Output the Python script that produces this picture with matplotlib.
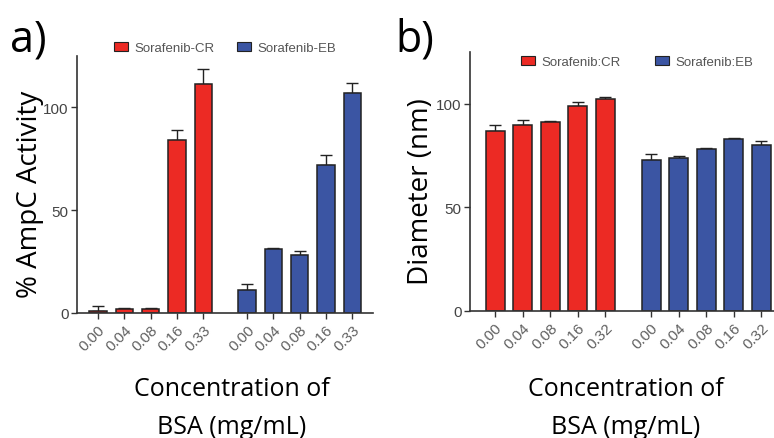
import numpy as np
import matplotlib
matplotlib.use("Agg")
from matplotlib import pyplot as plt
from matplotlib.patches import Patch

# data
conc_a = ["0.00", "0.04", "0.08", "0.16", "0.33"]
conc_b = ["0.00", "0.04", "0.08", "0.16", "0.32"]

activity_cr = [1.0, 2.0, 2.0, 84.0, 111.5]
activity_cr_err = [2.5, 0.5, 0.5, 5.0, 7.0]
activity_eb = [11.0, 31.0, 28.0, 72.0, 107.0]
activity_eb_err = [3.0, 0.5, 2.0, 5.0, 5.0]

diam_cr = [87.0, 90.0, 91.0, 99.0, 102.5]
diam_cr_err = [3.0, 2.0, 0.5, 2.0, 0.7]
diam_eb = [73.0, 74.0, 78.0, 83.0, 80.0]
diam_eb_err = [3.0, 0.6, 0.6, 0.6, 2.0]

RED = "#ec2a24"
BLUE = "#3b55a3"
AXC = "#333333"
TICKC = "#606060"
LABEL_FONT = "Open Sans"
SMALL_FONT = "Liberation Sans"


def draw_panel(ax, labels, cr, cr_err, eb, eb_err, names, xlim, width, legend_pos, colspace):
    x_cr = np.arange(len(cr))
    x_eb = np.arange(len(eb)) + 5.67
    ax.bar(x_cr, cr, width=width, color=RED, edgecolor="#222222", linewidth=1.1, zorder=2)
    ax.bar(x_eb, eb, width=width, color=BLUE, edgecolor="#222222", linewidth=1.1, zorder=2)
    for xs, ys, es in ((x_cr, cr, cr_err), (x_eb, eb, eb_err)):
        ax.errorbar(xs, ys, yerr=[np.zeros(len(es)), es], fmt="none", ecolor="#222222",
                    elinewidth=1.0, capsize=4, capthick=1.0, zorder=1)

    ax.set_xlim(*xlim)
    ax.set_ylim(0, 125)
    ax.set_yticks([0, 50, 100])
    ax.set_xticks(np.concatenate([x_cr, x_eb]))
    ax.set_xticklabels(labels + labels, rotation=45, ha="right", rotation_mode="anchor",
                       fontsize=11, color=TICKC, family=SMALL_FONT)
    for t in ax.get_yticklabels():
        t.set_family(SMALL_FONT)
        t.set_fontsize(11)
        t.set_color("#444444")
    ax.tick_params(axis="both", direction="out", length=4, width=1.0, color=AXC, pad=2)
    ax.tick_params(axis="x", pad=3)
    for s in ("top", "right"):
        ax.spines[s].set_visible(False)
    for s in ("left", "bottom"):
        ax.spines[s].set_color(AXC)
        ax.spines[s].set_linewidth(1.2)

    handles = [Patch(facecolor=RED, edgecolor="#222222", linewidth=0.8, label=names[0]),
               Patch(facecolor=BLUE, edgecolor="#222222", linewidth=0.8, label=names[1])]
    leg = ax.legend(handles=handles, loc="center", bbox_to_anchor=legend_pos, ncol=2,
                    frameon=False, prop={"family": SMALL_FONT, "size": 9.5},
                    handlelength=1.1, handleheight=0.7, handletextpad=0.45,
                    columnspacing=colspace, borderaxespad=0)
    for t in leg.get_texts():
        t.set_color("#555555")


fig = plt.figure(figsize=(7.74, 4.39), dpi=100)

ax_a = fig.add_axes([77 / 774, 1 - 314 / 439, 296 / 774, 257 / 439])
draw_panel(ax_a, conc_a, activity_cr, activity_cr_err, activity_eb, activity_eb_err,
           ["Sorafenib-CR", "Sorafenib-EB"], (-0.8, 10.46), 0.66, (0.50, 1.031), 1.7)

ax_b = fig.add_axes([470 / 774, 1 - 312 / 439, 304 / 774, 259 / 439])
draw_panel(ax_b, conc_b, diam_cr, diam_cr_err, diam_eb, diam_eb_err,
           ["Sorafenib:CR", "Sorafenib:EB"], (-0.91, 10.14), 0.69, (0.549, 0.961), 2.6)

# panel letters
fig.text(10 / 774, 1 - 40 / 439, "a)", fontsize=31, family=LABEL_FONT, va="center", ha="left")
fig.text(395 / 774, 1 - 40 / 439, "b)", fontsize=31, family=LABEL_FONT, va="center", ha="left")

# axis labels
fig.text(30 / 774, 1 - 194 / 439, "% AmpC Activity", fontsize=20, family=LABEL_FONT,
         rotation=90, va="center", ha="center")
fig.text(421 / 774, 1 - 192 / 439, "Diameter (nm)", fontsize=20, family=LABEL_FONT,
         rotation=90, va="center", ha="center")
for cx in (232, 626):
    fig.text(cx / 774, 1 - 390 / 439, "Concentration of", fontsize=18, family=LABEL_FONT,
             va="center", ha="center")
    fig.text(cx / 774, 1 - 428 / 439, "BSA (mg/mL)", fontsize=18, family=LABEL_FONT,
             va="center", ha="center")

fig.savefig("out.png", dpi=100)
